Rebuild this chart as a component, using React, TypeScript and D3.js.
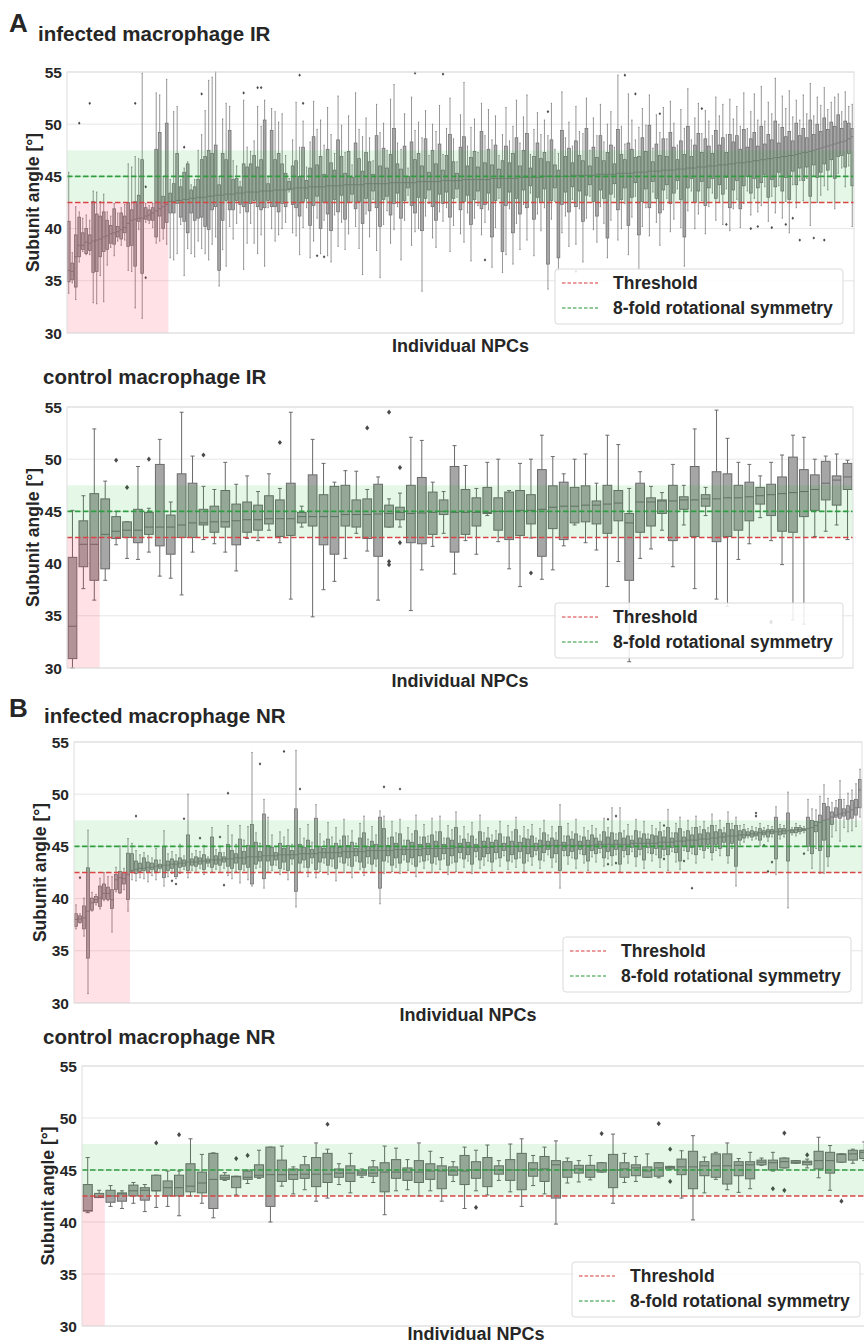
import React from "react";
import * as d3 from "d3";

// ---------- shared axis data ----------
const Y_TICKS = [30, 35, 40, 45, 50, 55];
const THRESHOLD = 42.5;
const SYMMETRY = 45;
const BAND_TOP = 47.5;
const LEGEND_LABELS = ["Threshold", "8-fold rotational symmetry"];
const X_LABEL = "Individual NPCs";
const Y_LABEL = "Subunit angle [°]";

// ---------- panel A: infected macrophage IR ----------
const infIrMed = [36.0,35.9,37.3,38.4,38.4,38.7,38.6,38.8,38.9,39.0,39.2,39.3,39.5,39.6,39.7,39.9,40.1,40.5,40.8,40.9,41.0,41.0,41.2,41.3,41.5,41.7,41.9,42.1,42.3,
42.6,42.6,42.7,42.7,42.8,42.8,42.9,42.9,43.0,43.0,43.0,43.1,43.1,43.2,43.2,43.2,43.3,43.3,43.3,43.4,43.4,43.4,43.5,43.5,43.5,43.5,43.6,43.6,43.6,43.6,43.7,43.7,43.7,43.7,43.8,43.8,
43.9,43.9,43.9,43.9,44.0,44.0,44.0,44.0,44.0,44.1,
44.1,44.1,44.1,44.1,44.2,44.2,44.2,44.2,44.2,44.2,
44.3,44.3,44.3,44.3,44.3,44.3,44.3,44.4,44.4,44.4,
44.4,44.4,44.4,44.4,44.4,44.5,44.5,44.5,44.5,44.5,
44.5,44.5,44.6,44.6,44.6,44.6,44.6,44.6,44.7,44.7,
44.7,44.7,44.7,44.7,44.7,44.7,44.8,44.8,44.8,44.8,
44.8,44.8,44.8,44.8,44.9,44.9,44.9,44.9,44.9,44.9,
44.9,45.0,45.0,45.0,45.0,45.0,45.0,45.0,45.0,45.1,
45.1,45.1,45.1,45.1,45.1,45.1,45.2,45.2,45.2,45.2,
45.2,45.2,45.3,45.3,45.3,45.3,45.3,45.4,45.4,45.4,
45.4,45.5,45.5,45.5,45.5,45.6,45.6,45.6,45.6,45.7,
45.7,45.7,45.8,45.8,45.8,45.9,45.9,45.9,46.0,46.0,
46.0,46.1,46.1,46.1,46.2,46.2,46.3,46.3,46.3,46.4,
46.4,46.5,46.5,46.6,46.6,46.7,46.7,46.8,46.8,46.9,
46.9,47.0,47.0,47.1,47.2,47.3,47.3,47.4,47.5,47.6,
47.7,47.8,47.9,48.0,48.1,48.2,48.3,48.4,48.6,48.8];
const infIrQ1 = [34.9,35.1,34.4,37.3,38.0,37.6,37.9,35.8,35.9,37.3,37.8,38.0,38.6,38.5,39.2,39.0,39.6,38.3,38.4,36.4,40.7,35.7,40.9,40.8,40.8,39.2,41.2,40.0,40.6,
41.5,41.5,42.4,41.1,40.7,39.6,41.5,40.8,41.0,41.1,40.2,39.9,41.8,42.1,36.0,40.8,42.7,41.8,41.8,42.7,42.3,42.1,41.6,42.4,42.7,42.1,41.8,42.0,42.7,42.1,42.1,41.6,42.4,42.1,43.7,42.3,
42.0,41.2,42.6,42.9,40.3,42.2,43.1,40.0,42.5,41.4,
39.8,42.8,41.6,43.2,40.9,42.5,43.3,41.9,42.6,40.5,
42.9,41.7,43.6,42.0,40.2,42.8,43.1,41.3,42.4,43.4,
41.0,42.7,43.9,42.2,41.5,43.0,39.8,42.9,43.7,42.1,
40.8,43.3,42.4,43.5,41.1,42.9,43.8,41.8,42.6,43.2,
40.4,42.8,43.6,41.9,42.3,43.4,39.2,42.7,43.9,37.8,
42.2,43.5,39.6,42.9,41.4,43.7,42.0,44.1,40.9,43.0,
42.5,43.8,36.6,42.7,43.9,37.2,42.3,43.5,41.6,44.0,
42.1,43.6,40.7,43.2,44.2,42.6,41.2,43.7,42.9,39.1,
43.3,44.3,41.8,42.8,43.9,40.3,43.0,44.4,39.4,42.6,
43.8,42.0,44.5,42.9,41.5,43.7,44.2,42.4,43.4,44.6,
42.8,39.2,43.9,44.8,42.5,43.6,44.5,42.2,43.9,44.8,
42.9,44.2,43.3,44.9,42.0,43.7,44.6,41.9,44.1,45.0,
43.4,44.8,43.9,44.4,45.2,43.0,44.7,44.0,45.4,43.6,
44.9,42.8,45.5,44.2,45.8,44.6,45.9,43.1,46.1,44.9,
45.4,46.2,45.6,46.6,44.8,46.9,47.0,45.9,47.2,44.1];
const infIrQ3 = [40.7,36.7,39.4,41.1,39.6,40.0,39.4,42.6,41.4,41.2,41.6,40.8,40.3,41.9,40.2,41.5,41.2,42.5,41.8,42.6,43.2,46.6,42.0,41.8,42.0,47.6,49.2,43.1,50.1,
43.4,44.3,47.2,44.0,45.4,46.2,43.7,44.0,44.7,46.6,46.9,47.5,47.2,48.0,44.2,47.2,46.6,49.4,44.7,44.8,44.0,46.2,45.9,46.2,47.0,45.9,46.6,50.4,44.3,49.4,46.6,47.2,46.2,45.3,44.5,46.0,
46.5,45.0,47.8,44.6,45.8,48.8,46.1,46.9,45.2,47.6,
46.3,45.6,48.5,46.9,45.3,47.4,44.9,48.2,46.7,45.5,
47.3,46.4,45.2,48.9,46.0,47.7,45.8,47.1,49.6,46.2,
45.7,47.9,45.0,48.3,46.6,47.2,46.0,48.6,45.4,47.5,
46.2,48.1,45.6,47.0,49.0,46.4,45.3,47.8,48.8,46.0,
46.8,47.4,45.9,49.3,46.3,47.6,46.1,48.0,45.7,46.5,
47.9,46.3,47.2,48.7,46.0,47.5,49.1,45.8,46.9,48.2,
46.7,47.3,46.4,48.5,46.1,45.6,49.4,46.9,47.7,46.3,
48.4,47.0,46.5,49.6,46.0,47.8,46.8,48.9,46.5,47.3,
48.0,46.2,49.5,47.1,46.6,48.2,47.6,46.8,46.9,48.7,
47.4,49.9,46.4,48.1,47.0,48.6,46.9,49.2,47.8,46.6,
48.4,47.1,49.8,46.9,48.0,49.1,47.3,48.6,47.9,47.2,
49.4,48.0,48.7,47.3,49.0,48.3,48.9,47.6,49.5,47.8,
48.6,49.2,47.9,49.8,48.1,49.0,48.5,50.3,48.2,49.7,
48.8,49.3,48.4,50.1,48.9,49.6,48.7,50.4,49.0,50.0,
49.3,50.6,49.5,50.2,49.8,50.9,49.6,50.3,50.1,49.6];
const infIrLo = [33.8,34.8,33.2,36.8,37.8,37.5,37.5,32.9,32.8,35.5,33.0,36.5,38.2,37.4,38.8,38.4,38.9,36.0,35.9,32.4,39.9,31.4,40.6,40.5,40.1,38.6,38.8,39.0,38.5,
37.2,37.0,37.6,40.4,35.5,38.1,37.6,37.3,38.8,38.1,37.6,37.0,38.5,39.2,34.5,38.0,36.4,40.2,39.0,40.5,41.5,36.1,38.6,40.5,38.6,37.6,39.4,36.4,42.0,40.0,38.8,39.4,40.0,40.6,43.5,39.6,
39.3,37.5,40.1,42.0,37.2,38.8,41.0,37.6,40.8,37.4,
36.8,41.3,38.3,40.6,38.0,39.5,42.6,40.2,38.1,35.6,
41.4,39.2,42.8,37.9,35.3,40.4,41.7,38.6,39.9,42.1,
37.0,40.8,43.2,38.4,39.7,40.0,34.0,41.2,42.4,39.1,
38.2,41.6,40.7,42.0,37.8,40.3,43.0,39.5,38.7,41.5,
36.9,41.0,42.2,39.4,40.6,41.8,36.3,40.1,42.9,35.8,
37.5,41.9,36.6,40.5,38.0,42.3,38.9,43.4,37.4,41.4,
39.8,42.0,34.2,40.9,42.6,36.0,39.6,41.2,38.3,42.8,
38.5,41.9,36.8,41.0,43.1,39.9,38.7,42.1,40.5,37.2,
40.8,43.0,38.9,40.0,42.4,37.5,41.1,43.1,36.1,40.2,
42.0,39.3,43.5,40.6,38.4,41.8,42.9,39.7,40.9,43.8,
40.1,36.4,41.7,43.6,40.0,41.4,42.7,39.5,42.1,43.4,
40.8,42.5,40.4,43.8,39.8,41.9,42.8,40.1,42.4,43.6,
41.3,42.9,41.6,42.2,44.0,40.7,43.1,41.5,44.1,41.0,
42.6,39.6,44.2,42.0,44.6,42.7,44.8,40.3,45.0,42.5,
43.2,44.1,43.7,45.1,41.9,45.3,45.8,44.0,46.0,40.2];
const infIrHi = [45.4,37.7,42.1,41.6,41.0,41.3,40.8,43.6,43.5,42.6,43.3,41.6,41.2,42.4,41.5,42.0,42.3,46.2,45.9,46.9,46.7,54.9,42.4,42.2,42.4,53.0,52.8,45.0,54.3,
44.7,51.2,51.7,44.7,45.8,46.4,44.2,44.7,47.5,49.0,51.3,54.2,54.5,55.0,45.0,50.5,52.0,51.7,46.5,46.0,44.5,52.3,47.8,47.4,48.4,51.7,49.8,52.3,45.0,51.5,51.2,50.2,51.0,47.0,44.8,48.5,
52.1,47.8,50.3,45.9,48.3,52.2,49.5,50.4,48.0,51.6,
49.0,47.2,52.7,49.9,47.3,50.8,46.1,53.0,49.5,48.8,
50.6,48.7,46.5,51.9,49.2,50.1,47.5,52.4,53.8,48.2,
47.6,51.0,45.8,52.6,49.4,50.2,48.7,51.3,47.0,50.0,
49.3,51.8,47.1,49.6,52.5,48.6,46.4,50.9,54.0,47.9,
49.7,50.5,47.3,52.0,48.9,51.4,48.5,50.8,47.0,49.0,
51.6,48.4,49.8,52.3,48.2,50.7,52.8,47.1,49.5,51.1,
49.0,50.4,48.9,52.0,47.6,47.2,53.1,48.7,50.2,47.9,
51.7,49.3,49.1,52.5,47.5,50.6,48.9,51.9,48.3,50.0,
51.2,47.8,54.7,49.8,48.1,52.9,50.4,48.5,49.7,51.5,
49.9,52.8,47.7,50.9,49.2,51.6,48.6,52.2,50.1,48.0,
51.4,49.6,53.4,48.5,50.6,52.0,49.1,51.3,50.3,48.9,
52.6,50.8,51.9,49.0,52.4,50.5,51.7,49.8,53.0,49.6,
51.2,52.9,50.4,53.6,50.3,52.1,51.0,54.4,50.0,52.7,
51.5,53.2,50.7,52.3,50.4,52.8,51.0,53.9,50.8,52.6,
51.8,53.5,51.4,52.1,52.6,52.9,51.2,53.1,51.7,51.9];
// outliers: [box number (1-based), value]
const infIrOut: [number, number][] = [[4,50.1],[7,52.0],[20,52.0],[23,35.3],[23,44.0],[34,47.8],[39,52.9],[51,53.0],[55,53.5],[56,53.5],
[67,54.7],[68,52.0],[72,37.4],[74,37.3],[100,54.9],[108,54.8],[120,37.0],[138,51.2],[146,35.9],[160,54.7],[163,52.9],[170,51.0],
[182,51.5],[189,40.4],[196,40.0],[198,40.2],[202,40.1],[206,40.4],[208,41.0],[210,38.9],[214,39.1],[217,38.9]];

// ---------- panel A: control macrophage IR ----------
const ctrlIrMed = [34.0,41.85,41.85,42.8,43.1,43.2,43.2,43.5,43.5,43.5,
43.7,43.9,43.9,44.0,44.0,44.1,44.2,44.2,44.3,44.3,
44.3,44.5,44.5,44.5,44.5,44.7,44.7,44.7,44.75,44.8,
44.9,44.8,44.85,44.9,45.0,44.9,44.9,44.9,44.9,45.0,
45.0,45.1,45.1,45.2,45.4,45.5,45.5,45.6,45.6,45.7,
45.8,43.9,45.9,45.9,46.0,46.0,46.1,46.1,46.2,46.2,
46.3,46.3,46.4,46.5,46.6,46.7,46.8,46.9,47.1,47.7,
48.0,48.3];
const ctrlIrQ1 = [30.9,39.7,38.4,39.5,42.4,42.5,42.0,42.8,41.7,40.9,
42.5,42.5,43.7,43.0,43.5,41.8,43.0,43.2,43.8,42.6,
42.7,43.9,43.6,41.8,40.9,43.6,43.5,42.4,40.7,43.5,
44.2,42.0,41.9,42.8,44.7,41.1,42.8,43.6,44.8,43.2,
42.3,42.7,43.8,40.7,43.35,42.3,43.9,44.0,43.8,42.9,
44.1,38.4,43.0,43.6,44.8,42.2,45.2,42.6,45.5,42.1,
42.6,43.2,44.1,45.7,44.6,43.1,43.0,44.5,45.1,46.1,
45.6,47.1];
const ctrlIrQ3 = [40.6,44.1,46.7,46.2,44.5,44.0,45.2,44.9,49.5,44.65,
48.6,47.7,45.2,45.5,47.0,45.7,45.9,45.6,46.5,46.1,
47.7,44.9,48.5,46.6,47.4,47.5,46.1,46.2,47.6,45.6,
45.4,47.5,48.25,46.85,46.1,49.3,47.1,46.3,47.3,46.3,
46.85,47.0,46.6,49.0,47.45,47.8,47.3,47.45,46.0,47.5,
47.0,44.8,47.7,46.3,46.1,47.5,46.4,49.3,46.6,48.8,
48.6,47.5,47.8,47.3,47.6,48.3,50.2,49.0,48.5,49.8,
48.4,49.6];
const ctrlIrLo = [30.0,37.6,36.5,38.4,41.8,40.5,40.4,41.1,38.8,38.6,
37.0,41.1,42.3,41.9,41.1,39.3,42.4,42.2,43.2,42.0,
36.6,43.5,34.9,37.5,38.3,40.5,42.9,41.2,36.5,43.5,
43.5,35.5,39.4,41.65,42.9,39.0,42.2,40.9,44.6,42.1,
39.5,37.8,42.45,38.5,39.4,41.7,43.7,42.0,41.3,37.8,
40.2,30.6,40.5,41.4,43.2,39.7,43.7,37.6,44.6,36.6,
35.9,40.4,41.9,44.4,42.2,39.9,34.6,34.2,42.6,43.1,
43.7,42.3];
const ctrlIrHi = [45.1,46.5,52.9,47.9,45.0,44.0,49.3,45.3,51.9,45.9,
54.5,50.3,47.4,47.1,49.7,47.6,48.4,46.9,48.6,47.2,
54.5,45.5,51.9,49.6,47.8,48.9,48.85,47.1,48.3,46.2,
46.75,52.1,51.8,47.8,46.9,51.3,49.4,47.2,49.7,50.0,
47.0,49.6,50.0,52.3,50.25,48.6,50.0,50.5,47.7,52.3,
51.4,47.2,48.8,47.4,46.8,49.5,47.5,52.9,47.3,54.7,
52.0,49.7,49.5,48.4,49.7,50.4,52.3,52.1,50.0,50.3,
50.5,49.9];
const ctrlIrOut: [number, number][] = [[5,49.9],[6,47.3],[8,50.0],[13,50.4],[20,51.6],[28,53.0],[30,54.5],[30,40.2],[30,39.9],[31,49.2],[31,42.0],[43,39.1],[65,34.4]];

// ---------- panel B: infected macrophage NR ----------
const infNrMed = [38.0,38.05,38.15,38.8,39.6,39.9,40.05,40.5,40.5,39.9,41.8,42.0,41.9,42.3,
42.7,42.8,42.9,42.9,43.0,43.0,43.1,43.1,43.2,43.2,
43.3,43.3,43.4,43.4,43.5,43.5,43.5,43.6,43.6,43.6,
43.7,43.7,43.7,43.8,43.8,43.8,43.9,43.9,43.9,44.0,
44.0,44.0,44.0,44.1,44.1,44.1,44.1,44.2,44.2,44.2,
44.2,44.2,44.3,
44.3,44.3,44.3,44.3,44.4,44.4,44.4,44.4,44.4,44.4,
44.5,44.5,44.5,44.5,44.5,44.5,44.6,44.6,44.6,44.6,
44.6,44.6,44.6,44.7,44.7,44.7,44.7,44.7,44.7,44.7,
44.8,44.8,44.8,44.8,44.8,44.8,44.8,44.8,44.9,44.9,
44.9,44.9,44.9,44.9,44.9,44.9,44.9,44.9,45.0,45.0,
45.0,45.0,45.0,45.0,45.0,45.0,45.0,45.0,45.0,45.0,
45.1,45.1,45.1,45.1,45.1,45.1,45.1,45.1,45.1,45.1,
45.1,45.1,45.1,45.2,45.2,45.2,45.2,45.2,45.2,45.2,
45.2,45.2,45.3,45.3,45.3,45.3,45.3,45.3,45.3,45.4,
45.4,45.4,45.4,45.5,45.5,45.5,45.6,45.6,45.6,45.7,
45.7,45.7,45.8,45.8,45.9,45.9,46.0,46.0,46.0,46.1,
46.1,46.1,46.2,46.2,46.3,46.3,46.4,46.4,46.4,46.4,
46.5,46.5,46.5,46.6,46.6,46.6,46.7,46.8,47.0,47.3,
47.5,47.6,47.8,48.0,48.1,48.2,48.3,48.5,48.7,50.4];
const infNrQ1 = [37.35,37.7,37.1,34.3,38.9,39.6,39.25,39.95,39.9,39.05,40.85,40.55,41.4,39.9,
42.6,42.4,42.6,42.7,42.5,42.8,42.6,42.9,42.0,42.7,
42.9,42.1,43.0,43.1,42.7,43.2,43.1,43.3,42.8,43.4,
43.0,43.3,43.2,43.5,43.1,42.9,43.4,42.8,43.3,43.0,
41.4,43.3,43.6,41.9,43.6,43.2,43.7,42.9,43.5,42.7,
43.8,40.7,43.4,
43.7,43.0,43.9,42.8,43.5,43.9,43.2,43.8,42.9,44.0,
43.4,43.9,43.1,44.1,43.5,43.0,44.0,43.3,43.8,41.0,
43.6,44.1,43.2,43.9,43.4,44.2,43.5,43.9,43.1,44.1,
43.6,44.2,43.4,44.0,43.7,44.3,43.2,44.1,43.5,44.4,
43.8,44.2,43.3,44.5,43.7,44.0,44.3,43.5,44.4,43.9,
44.6,43.6,44.2,43.8,44.5,43.4,44.3,44.0,44.6,43.7,
44.4,44.7,43.9,44.3,42.7,44.6,44.1,44.5,43.8,44.7,
44.2,43.6,44.6,44.3,44.8,43.9,44.5,44.1,44.7,43.3,
44.6,44.2,44.9,44.0,44.7,43.7,44.9,44.3,44.8,43.9,
44.7,44.2,44.9,44.4,43.6,45.0,44.5,44.9,44.2,45.1,
44.6,45.2,44.4,45.2,44.8,45.4,44.1,45.3,43.1,45.6,
45.8,46.0,45.9,46.0,45.6,46.1,45.9,46.2,43.8,46.1,
46.2,43.6,46.3,46.3,46.4,46.5,45.0,44.3,46.4,44.6,
45.6,44.0,47.1,47.8,47.7,47.9,47.6,47.7,48.0,48.7];
const infNrQ3 = [38.55,38.35,39.3,42.95,40.05,40.2,41.2,41.4,41.1,40.85,42.3,42.6,42.5,44.35,
44.3,43.6,43.4,43.9,43.5,43.4,43.7,43.3,45.0,43.6,
43.8,43.6,43.9,43.7,46.1,43.8,44.0,43.9,44.2,43.8,
45.9,44.1,44.4,44.0,45.2,44.6,44.3,45.7,44.5,45.1,
47.1,45.4,44.5,48.1,45.1,44.9,44.4,45.3,44.8,45.1,
44.6,48.6,45.2,
44.9,45.6,44.7,47.7,45.0,44.8,45.7,45.0,45.3,44.9,
46.0,45.1,45.4,44.8,45.8,46.3,45.0,45.5,45.2,47.8,
46.7,45.1,45.9,45.3,46.2,45.0,45.6,45.4,46.5,45.2,
45.9,45.3,46.1,45.5,46.4,45.2,45.8,45.6,46.8,45.3,
45.7,45.4,46.0,45.2,46.4,45.5,45.8,45.4,45.6,46.2,
45.3,45.9,45.5,46.6,45.4,45.8,45.7,46.0,45.3,45.6,
46.3,45.5,45.8,45.6,46.9,45.4,46.0,45.7,46.2,45.5,
45.9,45.6,46.1,45.8,45.5,46.4,45.9,46.3,45.6,46.3,
45.8,46.0,45.6,46.5,45.8,46.2,45.7,46.1,46.0,46.4,
45.9,46.8,45.8,46.3,46.7,45.9,46.5,46.1,46.8,46.2,
46.6,46.3,47.0,46.4,46.6,46.3,47.2,46.6,47.0,46.5,
46.6,46.4,46.5,46.4,46.7,46.5,46.6,46.6,47.8,46.7,
46.7,48.2,46.6,46.8,46.8,46.7,47.8,47.5,47.4,48.0,
49.1,48.8,48.3,48.7,49.5,48.6,48.9,49.4,49.5,51.4];
const infNrLo = [37.1,37.65,36.4,30.9,38.8,39.4,39.0,39.8,39.8,36.8,40.65,40.5,40.85,38.8,
41.8,41.7,42.0,41.9,41.6,42.2,41.8,42.5,41.2,42.1,
42.4,41.9,42.4,42.8,42.0,42.7,42.5,42.9,42.3,43.1,
42.6,42.8,42.5,42.9,42.2,41.9,42.6,41.5,42.7,41.8,
41.2,42.9,43.0,41.0,42.5,42.7,43.2,42.3,42.8,41.8,
43.3,39.2,42.6,
43.0,42.1,43.4,42.0,42.6,43.4,42.3,43.1,41.7,43.5,
42.5,43.2,42.0,43.6,42.8,42.2,43.4,42.5,43.1,39.5,
42.4,43.5,42.6,43.0,42.4,43.7,42.7,43.3,42.1,43.5,
42.9,43.7,42.5,43.3,42.8,43.8,42.3,43.4,42.6,43.9,
43.0,43.6,42.4,44.0,42.9,43.2,43.6,42.7,43.8,43.1,
44.1,42.8,43.5,43.0,43.9,42.6,43.6,43.2,44.2,42.9,
43.6,44.2,43.0,43.5,41.0,44.1,43.3,43.9,42.9,44.3,
43.4,42.7,44.0,43.5,44.4,43.1,43.8,43.2,44.2,42.6,
44.0,43.4,44.5,43.1,44.2,42.9,44.4,43.6,44.2,43.0,
44.1,42.7,44.5,43.5,42.8,44.6,43.8,44.3,43.4,44.7,
43.9,44.8,43.7,44.6,44.1,45.0,43.4,44.8,41.2,45.2,
45.4,45.8,45.6,45.7,45.1,45.9,45.5,45.9,42.3,45.7,
45.9,39.1,46.1,46.0,46.2,46.3,44.6,42.9,44.8,42.4,
42.4,43.1,45.9,46.5,45.5,46.8,46.4,46.5,46.9,47.8];
const infNrHi = [39.4,38.55,40.05,46.55,40.6,40.4,41.95,42.5,42.1,42.1,43.0,45.05,42.9,45.75,
45.3,44.6,44.2,44.4,44.1,43.9,44.8,43.7,46.5,44.3,
44.5,44.2,45.2,44.1,50.0,44.3,44.6,44.5,45.1,44.0,
46.8,44.7,45.0,44.4,47.0,46.1,45.2,47.0,45.6,46.9,
54.0,46.3,45.3,49.5,47.8,46.1,45.0,46.4,45.9,46.6,
45.2,54.2,46.7,
45.8,47.1,45.4,49.0,46.2,45.5,47.3,45.9,46.8,45.6,
47.6,46.0,46.5,45.3,47.2,47.9,45.7,46.9,46.1,48.4,
47.9,45.8,47.4,46.3,47.6,45.6,46.8,46.2,48.0,45.9,
47.1,46.0,47.7,46.4,47.9,45.8,47.0,46.6,48.3,46.0,
46.9,46.2,47.3,45.7,48.0,46.3,46.8,46.1,46.5,47.4,
45.9,47.0,46.4,47.8,46.0,46.9,46.6,47.1,45.8,46.7,
47.5,46.1,46.9,46.3,49.0,46.0,47.2,46.4,47.6,46.0,
46.8,46.5,47.0,46.7,46.1,47.7,46.8,48.7,46.2,48.7,
46.5,47.1,46.0,47.6,46.4,47.4,46.2,47.0,46.7,47.3,
46.5,48.55,46.3,47.2,47.8,46.4,47.5,46.8,47.9,46.9,
47.4,46.8,48.1,47.0,47.5,46.8,48.3,47.2,47.8,47.0,
47.1,46.7,46.9,46.8,47.2,46.8,47.0,46.9,48.8,47.1,
47.0,50.2,46.8,47.2,47.0,46.9,49.5,48.6,48.5,49.8,
50.9,49.6,49.2,49.4,51.3,49.5,50.1,50.4,51.0,52.4];
const infNrOut: [number, number][] = [[2,42.0],[16,47.9],[25,41.7],[26,41.4],[28,47.65],[32,45.8],[37,45.9],[38,41.3],[39,50.1],[47,52.9],[53,54.1],[57,50.5],
[78,50.7],[82,50.5],[134,47.6],[134,43.3],[136,47.9],[136,43.4],[148,47.0],[148,43.8],[153,43.6],[155,41.0],[171,48.2],[171,47.9],[173,45.1],[174,42.6],[175,43.5],[183,44.3]];

// ---------- panel B: control macrophage NR ----------
const ctrlNrMed = [41.1,42.4,42.5,42.7,43.0,43.05,43.0,43.3,43.3,43.45,
43.75,44.1,44.25,44.35,44.3,44.5,44.55,44.55,44.55,44.6,
44.6,44.6,44.7,44.7,44.7,44.7,44.8,44.8,44.8,44.8,
44.9,44.9,44.9,44.9,45.0,45.0,45.0,45.0,45.0,45.1,
45.1,45.5,45.0,45.1,45.0,44.95,45.0,45.1,45.2,44.9,
45.2,45.25,45.3,45.3,45.4,45.4,45.4,45.45,45.5,45.75,
45.7,45.8,45.75,45.75,45.9,45.9,46.5,46.55,46.7];
const ctrlNrQ1 = [41.05,42.35,41.9,42.0,42.5,42.1,43.0,42.5,42.5,42.9,
42.8,41.3,44.1,43.3,44.1,44.3,41.5,43.9,44.1,44.2,
43.4,43.8,44.3,43.9,44.5,44.4,42.9,44.2,44.0,43.8,
44.1,43.2,44.5,43.6,44.2,43.4,44.6,44.0,43.1,44.4,
43.9,42.3,44.3,44.7,44.3,44.8,43.3,44.3,44.45,44.3,
44.4,45.1,44.55,43.2,44.45,44.3,43.65,44.45,44.15,45.5,
45.0,45.2,45.65,45.5,45.1,44.7,45.75,45.95,46.1];
const ctrlNrQ3 = [43.6,42.75,43.05,42.8,43.55,43.3,44.5,43.95,44.5,45.6,
44.8,46.6,44.5,44.4,44.9,45.5,47.2,45.95,45.1,45.5,
46.2,46.6,45.1,45.4,44.9,45.3,45.7,46.0,45.2,45.9,
45.6,45.4,45.3,46.4,45.8,46.2,45.4,46.0,46.6,45.7,
46.3,45.9,45.8,45.45,45.45,45.7,46.5,45.7,45.5,45.3,
45.7,45.35,46.05,46.8,45.8,46.55,46.55,45.8,45.8,45.95,
45.95,46.15,45.9,45.85,46.8,46.7,46.55,46.9,46.9];
const ctrlNrLo = [40.9,42.35,41.5,41.3,41.8,41.0,41.4,41.5,40.6,42.5,
41.8,40.4,44.0,42.6,43.7,44.2,40.0,43.45,42.7,43.1,
42.0,42.3,43.6,42.8,44.3,43.8,40.7,43.0,43.1,42.5,
43.0,42.0,43.9,41.3,43.0,42.6,44.0,42.9,41.5,43.5,
42.7,39.8,43.75,43.85,44.05,44.8,41.8,43.8,43.9,44.3,
44.25,45.1,42.3,40.2,42.8,44.1,43.1,42.85,43.2,45.45,
44.9,45.2,45.65,45.2,44.25,43.05,45.75,45.65,45.9];
const ctrlNrHi = [46.2,43.05,43.5,43.0,43.8,43.6,44.5,44.9,44.9,48.0,
46.5,46.65,44.75,44.4,45.0,46.9,47.2,47.3,45.3,46.3,
47.6,47.0,45.6,46.6,45.1,45.9,47.3,47.1,46.0,47.6,
46.8,46.2,45.8,47.2,46.9,47.4,45.9,47.5,48.0,46.4,
47.2,47.8,46.15,45.9,46.4,45.7,48.45,46.6,46.3,46.55,
45.7,45.35,46.85,48.3,46.25,46.7,47.6,46.1,46.7,46.15,
46.7,46.15,45.9,46.05,48.15,47.35,46.55,47.0,47.7];
const ctrlNrOut: [number, number][] = [[7,47.6],[9,48.4],[14,46.1],[15,46.4],[22,49.4],[35,41.4],[46,48.5],[51,49.45],[52,47.0],[52,43.9],[61,43.2],[62,48.55],[62,43.05],[64,46.45],[67,42.0]];

const FONT = '"Liberation Sans", Arial, Helvetica, sans-serif';
const TXT = "#262626";
const BOX_FILL = "#a6a6a6";
const BOX_STROKE = "#6a6a6a";
const RED = "#d94545";
const GREEN = "#2e9e3e";

interface PanelProps {
  id: string;
  title: string;
  titleX: number;
  titleBase: number;
  letter?: string;
  letterBase?: number;
  med: number[]; q1: number[]; q3: number[]; lo: number[]; hi: number[];
  out: [number, number][];
  left: number; right: number; top: number; bottom: number;
  ylabX: number;
  xlabY: number;
  legX: number; legTop: number;
  lw: number;
}

function BoxPanel(p: PanelProps) {
  const n = p.med.length;
  const x = d3.scaleBand<number>().domain(d3.range(n)).range([p.left, p.right]).paddingInner(0.2).paddingOuter(0.1);
  const y = d3.scaleLinear().domain([30, 55]).range([p.bottom, p.top]);
  const bw = x.bandwidth();
  const capW = bw * 0.45;
  const pinkN = p.med.filter((v) => v < THRESHOLD).length;
  const pinkRight = p.left + x.step() * pinkN;
  const clipId = `clip-${p.id}`;
  const cx = (i: number) => (x(i) as number) + bw / 2;
  const dsz = Math.max(1.6, Math.min(2.6, bw * 0.35));
  const diamond = (px: number, py: number) => `M${px},${py - dsz}L${px + dsz * 0.8},${py}L${px},${py + dsz}L${px - dsz * 0.8},${py}Z`;

  return (
    <g>
      <defs>
        <clipPath id={clipId}>
          <rect x={p.left} y={p.top - 1} width={p.right - p.left} height={p.bottom - p.top + 2} />
        </clipPath>
      </defs>
      {Y_TICKS.map((t) => (
        <line key={t} x1={p.left} x2={p.right} y1={y(t)} y2={y(t)} stroke="#e6e6e6" strokeWidth={1} />
      ))}
      <g clipPath={`url(#${clipId})`}>
        {p.med.map((m, i) => {
          const c = cx(i);
          return (
            <g key={i} stroke={BOX_STROKE} strokeWidth={p.lw}>
              <line x1={c} x2={c} y1={y(p.lo[i])} y2={y(p.q1[i])} />
              <line x1={c} x2={c} y1={y(p.q3[i])} y2={y(p.hi[i])} />
              <line x1={c - capW / 2} x2={c + capW / 2} y1={y(p.lo[i])} y2={y(p.lo[i])} />
              <line x1={c - capW / 2} x2={c + capW / 2} y1={y(p.hi[i])} y2={y(p.hi[i])} />
              <rect x={x(i)} y={y(p.q3[i])} width={bw} height={Math.max(0.5, y(p.q1[i]) - y(p.q3[i]))} fill={BOX_FILL} />
              <line x1={x(i) as number} x2={(x(i) as number) + bw} y1={y(m)} y2={y(m)} />
            </g>
          );
        })}
        {p.out.map(([b, v], k) => (
          <path key={k} d={diamond(cx(b - 1), y(v))} fill="#4a4a4a" />
        ))}
        <rect x={p.left} y={y(BAND_TOP)} width={p.right - p.left} height={y(THRESHOLD) - y(BAND_TOP)} fill="rgb(0,190,30)" fillOpacity={0.1} />
        <rect x={p.left} y={y(THRESHOLD)} width={pinkRight - p.left} height={y(30) - y(THRESHOLD)} fill="rgb(255,20,60)" fillOpacity={0.13} />
        <line x1={p.left} x2={p.right} y1={y(THRESHOLD)} y2={y(THRESHOLD)} stroke={RED} strokeWidth={1.6} strokeDasharray="5.5,2.5" />
        <line x1={p.left} x2={p.right} y1={y(SYMMETRY)} y2={y(SYMMETRY)} stroke={GREEN} strokeWidth={1.6} strokeDasharray="5.5,2.5" />
      </g>
      <rect x={p.left} y={p.top} width={p.right - p.left} height={p.bottom - p.top} fill="none" stroke="#dedede" strokeWidth={1} />
      {Y_TICKS.map((t) => (
        <text key={t} x={p.left - 5} y={y(t)} textAnchor="end" dominantBaseline="central" fontSize={15.5} fontWeight={700} fill={TXT} fontFamily={FONT}>
          {t}
        </text>
      ))}
      <text transform={`translate(${p.ylabX},${(p.top + p.bottom) / 2}) rotate(-90)`} textAnchor="middle" dominantBaseline="central" fontSize={17.5} fontWeight={700} fill={TXT} fontFamily={FONT}>
        {Y_LABEL}
      </text>
      <text x={(p.left + p.right) / 2} y={p.xlabY} textAnchor="middle" dominantBaseline="central" fontSize={18} fontWeight={700} fill={TXT} fontFamily={FONT}>
        {X_LABEL}
      </text>
      <text x={p.titleX} y={p.titleBase} fontSize={20.5} fontWeight={700} fill={TXT} fontFamily={FONT}>
        {p.title}
      </text>
      {p.letter && (
        <text x={9} y={p.letterBase} fontSize={26} fontWeight={700} fill={TXT} fontFamily={FONT}>
          {p.letter}
        </text>
      )}
      <g>
        <rect x={p.legX} y={p.legTop} width={288} height={55} rx={3} fill="#ffffff" fillOpacity={0.85} stroke="#dadada" strokeWidth={1} />
        {LEGEND_LABELS.map((lab, k) => {
          const ly = p.legTop + 14 + k * 25;
          return (
            <g key={lab}>
              <line x1={p.legX + 7} x2={p.legX + 43} y1={ly} y2={ly} stroke={k === 0 ? RED : GREEN} strokeWidth={1.4} strokeDasharray="3.5,2" opacity={0.7} />
              <text x={p.legX + 58} y={ly} dominantBaseline="central" fontSize={17.5} fontWeight={700} fill={TXT} fontFamily={FONT}>
                {lab}
              </text>
            </g>
          );
        })}
      </g>
    </g>
  );
}

export default function App() {
  return (
    <svg width={864} height={1343} style={{ position: "absolute", left: 0, top: 0, background: "#fff" }} xmlns="http://www.w3.org/2000/svg">
      <rect x={0} y={0} width={864} height={1343} fill="#fff" />
      <BoxPanel id="a1" title="infected macrophage IR" titleX={38} titleBase={41} letter="A" letterBase={32}
        med={infIrMed} q1={infIrQ1} q3={infIrQ3} lo={infIrLo} hi={infIrHi} out={infIrOut}
        left={67} right={854} top={72} bottom={333} ylabX={33} xlabY={346} legX={555} legTop={269} lw={0.7} />
      <BoxPanel id="a2" title="control macrophage IR" titleX={43} titleBase={384}
        med={ctrlIrMed} q1={ctrlIrQ1} q3={ctrlIrQ3} lo={ctrlIrLo} hi={ctrlIrHi} out={ctrlIrOut}
        left={67} right={853} top={407} bottom={668} ylabX={33} xlabY={681} legX={555} legTop={603} lw={1} />
      <BoxPanel id="b1" title="infected macrophage NR" titleX={44} titleBase={723} letter="B" letterBase={717}
        med={infNrMed} q1={infNrQ1} q3={infNrQ3} lo={infNrLo} hi={infNrHi} out={infNrOut}
        left={74} right={862} top={742} bottom={1003} ylabX={40} xlabY={1015} legX={563} legTop={937} lw={0.7} />
      <BoxPanel id="b2" title="control macrophage NR" titleX={43} titleBase={1044}
        med={ctrlNrMed} q1={ctrlNrQ1} q3={ctrlNrQ3} lo={ctrlNrLo} hi={ctrlNrHi} out={ctrlNrOut}
        left={82} right={870} top={1066} bottom={1326} ylabX={48} xlabY={1334} legX={572} legTop={1262} lw={1} />
    </svg>
  );
}
